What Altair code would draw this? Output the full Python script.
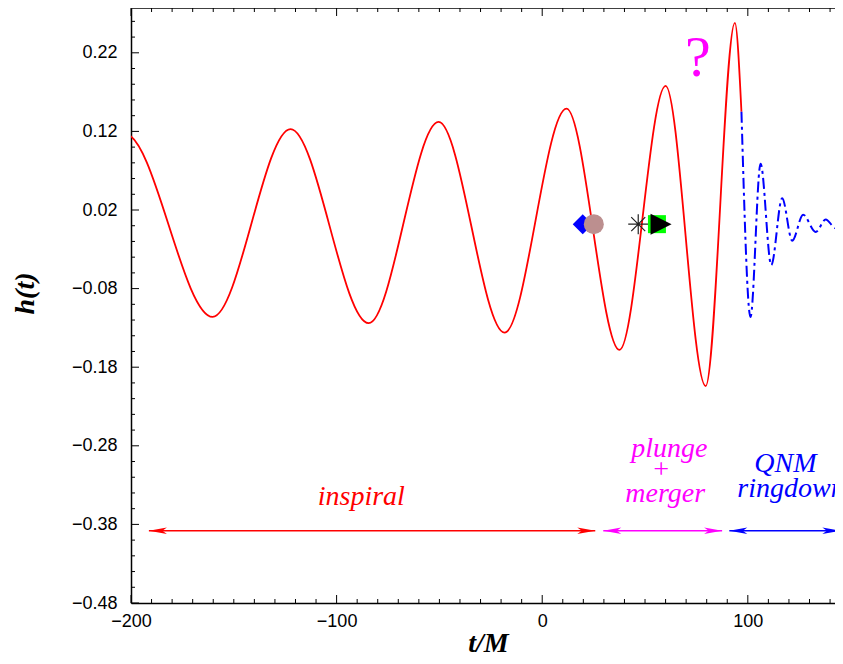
import altair as alt
import pandas as pd

# ---------------- data ----------------
# red (inspiral + plunge) waveform: extrema (t/M, h); first point lies outside the view
insp_t = [-240.0, -203.0, -160.3, -122.4, -84.4, -50.4, -18.3, 11.8, 37.6, 60.0, 79.5, 93.7, 96.9]
insp_h = [-0.112, 0.117, -0.116, 0.123, -0.124, 0.132, -0.136, 0.149, -0.158, 0.178, -0.204, 0.258, 0.145]

# blue dash-dot QNM ringdown
ring_t = [96.9, 101.3, 106.2, 111.4, 116.7, 121.6, 126.9, 133.0, 137.9, 142.7, 147.6, 150.0]
ring_h = [0.145, -0.116, 0.079, -0.050, 0.035, -0.019, 0.014, -0.008, 0.008, -0.003, 0.004, 0.001]

# special markers on the zero line
marker_names = ["diamond", "circle", "asterisk", "square", "triangle"]
marker_t = [19.7, 25.1, 46.7, 55.8, 57.8]
marker_h = [0.002, 0.002, 0.002, 0.002, 0.002]

# phase arrows
phases = ["inspiral", "plunge", "ringdown"]
phase_start = [-191.3, 29.7, 91.0]
phase_end = [25.8, 87.5, 145.0]
phase_h = [-0.388, -0.388, -0.388]

# phase labels
label_text = ["inspiral", "plunge", "+", "merger", "QNM", "ringdown"]
label_phase = ["inspiral", "plunge", "plunge", "plunge", "ringdown", "ringdown"]
label_t = [-88.0, 61.8, 57.8, 59.8, 118.3, 121.0]
label_h = [-0.355, -0.294, -0.321, -0.352, -0.313, -0.345]

question_text = ["?"]
question_t = [75.7]
question_h = [0.19]

# axis ticks
x_major = [-200, -100, 0, 100]
y_major = [-0.48, -0.38, -0.28, -0.18, -0.08, 0.02, 0.12, 0.22]
x_minor = [v for v in range(-200, 141, 10) if v % 100 != 0]
y_minor = [round(-0.48 + 0.02 * k, 2) for k in range(38) if k % 5 != 0]

# ---------------- styling / layout ----------------
W, H = 704, 595
RED, MAG, BLUE = "#FF0000", "#FF00FF", "#0000FF"

xscale = alt.Scale(domain=[-200, 142.4], nice=False, zero=False)
yscale = alt.Scale(domain=[-0.48, 0.277], nice=False, zero=False)

xaxis = alt.Axis(values=x_major, format="d", ticks=False, tickSize=0, grid=False,
                 domain=True, domainColor="black", domainWidth=1.5,
                 labelFont="Liberation Sans", labelFontSize=18, labelColor="black",
                 labelPadding=9, labelFlush=False, labelOverlap=False,
                 title="t/M", titleFont="Liberation Serif", titleFontSize=28,
                 titleFontStyle="italic", titleFontWeight="bold", titleColor="black",
                 titleX=357, titleY=48, titleBaseline="alphabetic", titleAlign="center")
yaxis = alt.Axis(values=y_major, format=".2f", ticks=False, tickSize=0, grid=False,
                 domain=True, domainColor="black", domainWidth=1.5,
                 labelFont="Liberation Sans", labelFontSize=18, labelColor="black",
                 labelPadding=14, labelOverlap=False,
                 title="h(t)", titleFont="Liberation Serif", titleFontSize=28,
                 titleFontStyle="italic", titleFontWeight="bold", titleColor="black",
                 titleX=-106, titleY=285, titleAngle=270, titleBaseline="middle", titleAlign="center")


def X(f):
    return alt.X(f"{f}:Q", scale=xscale, axis=xaxis)


def Y(f):
    return alt.Y(f"{f}:Q", scale=yscale, axis=yaxis)


# ---------------- frame top + inward ticks ----------------
ymaj = pd.DataFrame({"v": y_major})
ymin = pd.DataFrame({"v": y_minor})
xmaj = pd.DataFrame({"v": x_major})
xmin = pd.DataFrame({"v": x_minor})

top_frame = alt.Chart(pd.DataFrame({"v": [0]})).mark_rule(color="black", strokeWidth=1.5).encode(
    x=alt.value(0), x2=alt.value(W), y=alt.value(0))

tick_layers = [top_frame]
for df, ln in [(ymaj, 8), (ymin, 4)]:
    tick_layers.append(alt.Chart(df).mark_rule(color="black", strokeWidth=1).encode(
        y=Y("v"), x=alt.value(0), x2=alt.value(ln)))
for df, ln in [(xmaj, 8), (xmin, 4)]:
    tick_layers.append(alt.Chart(df).mark_rule(color="black", strokeWidth=1).encode(
        x=X("v"), y=alt.value(H), y2=alt.value(H - ln)))
    tick_layers.append(alt.Chart(df).mark_rule(color="black", strokeWidth=1).encode(
        x=X("v"), y=alt.value(0), y2=alt.value(ln)))

# ---------------- waveform ----------------
insp_df = pd.DataFrame({"t": insp_t, "h": insp_h})
ring_df = pd.DataFrame({"t": ring_t, "h": ring_h})

red = alt.Chart(insp_df).mark_line(color=RED, strokeWidth=1.8, interpolate="monotone", clip=True).encode(
    x=X("t"), y=Y("h"))
blue = alt.Chart(ring_df).mark_line(color=BLUE, strokeWidth=2, strokeDash=[11, 4, 3, 4],
                                    interpolate="monotone", clip=True).encode(x=X("t"), y=Y("h"))

# ---------------- arrows ----------------
color_enc = alt.Color("phase:N", scale=alt.Scale(domain=phases, range=[RED, MAG, BLUE]), legend=None)
arrow_df = pd.DataFrame({"phase": phases, "start": phase_start, "end": phase_end, "h": phase_h})

arrow_line = alt.Chart(arrow_df).mark_rule(strokeWidth=1.5, clip=True).encode(
    x=X("start"), x2="end:Q", y=Y("h"), color=color_enc)
head_r = alt.Chart(arrow_df).mark_point(shape="M0,0L-2,-0.36L-1.5,0L-2,0.36Z", size=324,
                                        filled=True, opacity=1).encode(x=X("end"), y=Y("h"), color=color_enc)
head_l = alt.Chart(arrow_df).mark_point(shape="M0,0L2,-0.36L1.5,0L2,0.36Z", size=324,
                                        filled=True, opacity=1).encode(x=X("start"), y=Y("h"), color=color_enc)

# ---------------- labels ----------------
label_df = pd.DataFrame({"text": label_text, "phase": label_phase, "t": label_t, "h": label_h})
labels = alt.Chart(label_df).mark_text(font="Liberation Serif", fontSize=28, fontStyle="italic",
                                       baseline="alphabetic", align="center").encode(
    x=X("t"), y=Y("h"), text="text:N", color=color_enc)

q_df = pd.DataFrame({"text": question_text, "t": question_t, "h": question_h})
question = alt.Chart(q_df).mark_text(font="Liberation Serif", fontSize=58, color=MAG,
                                     baseline="alphabetic", align="center").encode(
    x=X("t"), y=Y("h"), text="text:N")

# ---------------- markers ----------------
marker_df = pd.DataFrame({"name": marker_names, "t": marker_t, "h": marker_h})


def marker(name, **kw):
    return alt.Chart(marker_df).transform_filter(alt.datum.name == name).mark_point(
        opacity=1, **kw).encode(x=X("t"), y=Y("h"))


markers = [
    marker("diamond", shape="diamond", filled=True, color=BLUE, size=400),
    marker("circle", shape="circle", filled=True, color="#BC8F8F", size=400),
    marker("asterisk", shape="M-1,0L1,0M0,-1L0,1M-0.7,-0.7L0.7,0.7M-0.7,0.7L0.7,-0.7",
           filled=False, color="#222222", strokeWidth=1.2, size=400),
    marker("square", shape="square", filled=True, color="#00FF00", size=324),
    marker("triangle", shape="M1,0L-1,-1L-1,1Z", filled=True, color="black", size=441),
]

chart = alt.layer(
    *tick_layers, arrow_line, head_r, head_l, labels, question, red, blue, *markers
).properties(
    width=W, height=H,
    autosize=alt.AutoSizeParams(type="none"),
    padding={"left": 123, "top": 0, "right": 0, "bottom": 53},
    background="white",
).configure_view(stroke="transparent")

chart.save("out.html", embed_options={"renderer": "svg", "actions": False})
